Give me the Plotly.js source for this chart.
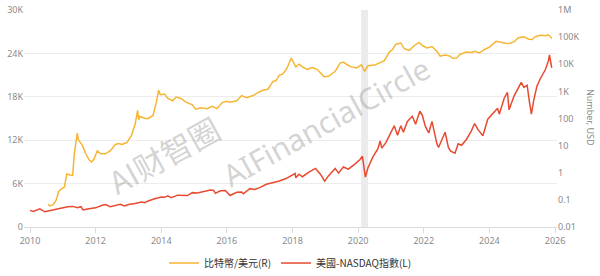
<!DOCTYPE html>
<html>
<head>
<meta charset="utf-8">
<script src="https://cdn.plot.ly/plotly-3.0.1.min.js"></script>
<style>html,body{margin:0;padding:0;background:#fff;}#chart{width:600px;height:276px;}</style>
</head>
<body>
<div id="chart"></div>
<script>
// Bitcoin / USD (right, log axis)
const btcX = [2010.55,2010.6,2010.7,2010.8,2010.87,2010.95,2011.05,2011.12,2011.2,2011.3,2011.35,2011.42,2011.44,2011.47,2011.52,2011.6,2011.7,2011.8,2011.88,2011.95,2012.05,2012.15,2012.3,2012.45,2012.6,2012.7,2012.8,2012.95,2013.1,2013.2,2013.28,2013.31,2013.35,2013.5,2013.6,2013.75,2013.85,2013.92,2013.97,2014.1,2014.2,2014.35,2014.45,2014.6,2014.75,2014.95,2015.05,2015.2,2015.4,2015.55,2015.7,2015.85,2015.98,2016.1,2016.3,2016.45,2016.6,2016.8,2016.98,2017.1,2017.25,2017.4,2017.5,2017.6,2017.7,2017.83,2017.96,2018.0,2018.1,2018.2,2018.3,2018.45,2018.6,2018.75,2018.9,2018.96,2019.1,2019.3,2019.45,2019.55,2019.7,2019.8,2019.95,2020.1,2020.2,2020.3,2020.5,2020.65,2020.8,2020.95,2021.05,2021.15,2021.3,2021.4,2021.55,2021.7,2021.85,2021.98,2022.1,2022.25,2022.4,2022.5,2022.65,2022.8,2022.88,2023.0,2023.1,2023.3,2023.45,2023.55,2023.7,2023.85,2024.0,2024.2,2024.35,2024.5,2024.6,2024.75,2024.88,2024.97,2025.05,2025.2,2025.3,2025.4,2025.55,2025.7,2025.78,2025.85,2025.9];
const btcY = [0.07,0.06,0.065,0.1,0.2,0.25,0.3,0.9,0.85,0.8,5,18,29,17,14,10,5,3,2.5,3.2,6.5,5,5,6.5,11,12,11,13,25,60,200,90,120,100,100,130,400,1100,750,800,550,450,620,550,400,320,220,250,230,280,230,380,430,400,450,700,580,700,950,1100,1200,2300,2500,4000,4300,7000,17000,14000,8000,10000,8000,6500,7500,6500,4000,3500,3600,5500,11000,12000,9000,8000,7300,9500,5500,8800,9300,11500,13500,28000,35000,55000,60000,38000,32000,47000,64000,47000,40000,45000,30000,20000,22000,20000,16500,16800,23000,28000,27000,30000,26000,35000,43000,70000,63000,60000,58000,67000,95000,98000,102000,84000,82000,104000,118000,112000,122000,108000,88000];

// US NASDAQ index (left axis)
const ndqX = [2010.0,2010.1,2010.3,2010.45,2010.55,2010.7,2010.85,2011.0,2011.15,2011.3,2011.45,2011.55,2011.62,2011.75,2011.85,2012.0,2012.2,2012.3,2012.45,2012.6,2012.75,2012.88,2013.0,2013.2,2013.4,2013.5,2013.6,2013.8,2014.0,2014.1,2014.2,2014.3,2014.5,2014.8,2014.95,2015.1,2015.3,2015.5,2015.6,2015.65,2015.8,2015.95,2016.1,2016.3,2016.45,2016.5,2016.7,2016.85,2017.0,2017.2,2017.45,2017.6,2017.8,2018.0,2018.08,2018.1,2018.2,2018.3,2018.5,2018.7,2018.85,2018.98,2019.1,2019.3,2019.4,2019.55,2019.7,2019.9,2020.05,2020.13,2020.18,2020.22,2020.3,2020.45,2020.6,2020.67,2020.72,2020.85,2020.98,2021.1,2021.2,2021.3,2021.38,2021.5,2021.65,2021.75,2021.88,2021.95,2022.05,2022.15,2022.25,2022.4,2022.45,2022.6,2022.65,2022.75,2022.82,2022.95,2023.05,2023.15,2023.3,2023.45,2023.55,2023.65,2023.8,2023.95,2024.1,2024.25,2024.3,2024.45,2024.55,2024.6,2024.75,2024.9,2024.97,2025.05,2025.15,2025.22,2025.28,2025.35,2025.45,2025.55,2025.7,2025.8,2025.83,2025.88,2025.9];
const ndqY = [2300,2150,2500,2100,2200,2350,2550,2700,2800,2850,2650,2800,2350,2500,2600,2650,3000,3100,2800,3000,3150,2900,3100,3250,3450,3350,3600,3900,4150,4100,4300,4050,4400,4350,4750,4700,4950,5100,5050,4650,5000,5050,4350,4800,4850,4600,5300,5200,5450,5900,6200,6350,6700,7250,7400,6800,7300,6950,7600,8100,7300,6350,7100,8100,7450,8300,8000,8700,9300,9800,8500,6900,8200,9700,10800,11900,10900,11700,12900,14000,12700,14000,13100,14600,15300,14200,16000,15500,13900,13000,14600,11500,11000,12600,13100,11000,10500,10200,11500,11300,12100,13300,14300,13500,12600,14900,15600,16400,15600,17800,18600,16200,18100,19500,20000,19300,19600,17300,15600,17500,19500,20500,21700,23000,23800,22500,22000];

const yearTicks = [2010,2012,2014,2016,2018,2020,2022,2024,2026];
const leftTickVals = [0,6000,12000,18000,24000,30000];
const leftTickText = ['0','6K','12K','18K','24K','30K'];
const rightTickVals = [0.01,0.1,1,10,100,1000,10000,100000,1000000];
const rightTickText = ['0.01','0.1','1','10','100','1K','10K','100K','1M'];
const names = ['比特幣/美元(R)','美國-NASDAQ指數(L)'];
const recession = [2020.09, 2020.30];

const tickFont = {family:'"Noto Sans", "Noto Sans CJK SC", sans-serif', size:9, color:'#8a8a8a'};

const traces = [
  {x:btcX, y:btcY, name:names[0], type:'scatter', mode:'lines', yaxis:'y2',
   line:{color:'#F7B534', width:1.5}},
  {x:ndqX, y:ndqY, name:names[1], type:'scatter', mode:'lines', yaxis:'y',
   line:{color:'#E8492F', width:1.5}}
];

const layout = {
  width:600, height:276,
  margin:{l:24, r:43, t:10, b:49, autoexpand:false},
  paper_bgcolor:'#fff', plot_bgcolor:'#fff',
  showlegend:true,
  legend:{orientation:'h', x:0.5, xanchor:'center', y:-0.166, yanchor:'middle',
    font:{family:'"Noto Sans CJK SC", sans-serif', size:10, color:'#333'},
    itemwidth:30, tracegroupgap:0},
  xaxis:{range:[2009.817, 2026.06], tickvals:yearTicks, ticktext:yearTicks.map(String),
    showgrid:false, zeroline:false, showline:true, linecolor:'#dcdcdc', linewidth:1,
    ticks:'outside', ticklen:5, tickcolor:'#dcdcdc', tickfont:tickFont, automargin:false},
  yaxis:{range:[0,30000], tickvals:leftTickVals, ticktext:leftTickText,
    showgrid:true, gridcolor:'#ececec', zeroline:false, showline:false,
    tickfont:tickFont, ticks:'', automargin:false},
  yaxis2:{type:'log', range:[-2,6], overlaying:'y', side:'right',
    tickvals:rightTickVals, ticktext:rightTickText, showgrid:false, zeroline:false,
    showline:false, tickfont:tickFont, ticks:'', automargin:false},
  shapes:[{type:'rect', xref:'x', yref:'paper', x0:recession[0], x1:recession[1], y0:0, y1:1,
    fillcolor:'#ebebeb', line:{width:0}, layer:'below'}],
  annotations:[
    {text:'AI财智圈', xref:'paper', yref:'paper', x:0.261, y:0.336, xanchor:'center', yanchor:'middle',
     showarrow:false, textangle:-29,
     font:{family:'"Noto Sans CJK SC", sans-serif', size:31, color:'rgba(150,150,150,0.42)'}},
    {text:'AIFinancialCircle', xref:'paper', yref:'paper', x:0.568, y:0.484, xanchor:'center', yanchor:'middle',
     showarrow:false, textangle:-29,
     font:{family:'"Noto Sans", sans-serif', size:30, color:'rgba(150,150,150,0.42)'}},
    {text:'Number, USD', xref:'paper', yref:'paper', x:1.062, y:0.507, xanchor:'center', yanchor:'middle',
     showarrow:false, textangle:90,
     font:{family:'"Noto Sans", sans-serif', size:9, color:'#8a8a8a'}}
  ]
};

Plotly.newPlot('chart', traces, layout, {displayModeBar:false, staticPlot:true});
</script>
</body>
</html>
